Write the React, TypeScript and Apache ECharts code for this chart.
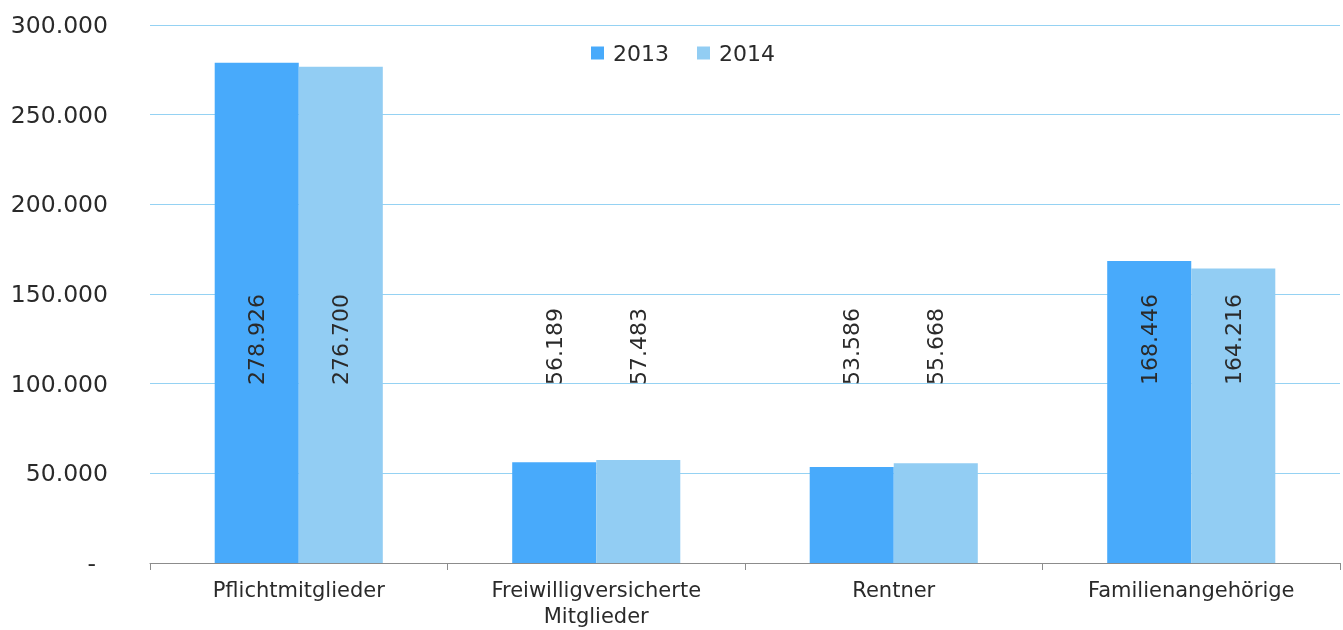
import React, { useEffect, useRef } from "react";
import * as echarts from "echarts";

const categories = ["Pflichtmitglieder", "Freiwilligversicherte Mitglieder", "Rentner", "Familienangehörige"];
const values2013 = [278926, 56189, 53586, 168446];
const values2014 = [276700, 57483, 55668, 164216];
const seriesNames = ["2013", "2014"];

const fmt = (v: number) => {
  if (v === 0) return "-";
  return String(Math.round(v)).replace(/\B(?=(\d{3})+(?!\d))/g, ".");
};

export default function App() {
  const ref = useRef<HTMLDivElement>(null);
  useEffect(() => {
    if (!ref.current) return;
    const chart = echarts.init(ref.current, null, { renderer: "svg" });
    const font = "'DejaVu Sans', Verdana, sans-serif";
    const txt = "#2a2a2a";
    const mkLabel = () => ({
      show: true,
      position: "insideBottom" as const,
      distance: 178,
      rotate: 90,
      align: "left" as const,
      verticalAlign: "middle" as const,
      color: txt,
      fontSize: 22,
      fontFamily: font,
      formatter: (p: any) => fmt(p.value),
    });
    chart.setOption({
      animation: false,
      textStyle: { fontFamily: font },
      legend: {
        data: seriesNames,
        top: 37,
        left: 586,
        itemWidth: 13,
        itemHeight: 13,
        itemGap: 28,
        icon: "rect",
        textStyle: { fontSize: 22, color: txt, fontFamily: font, padding: [0, 0, 0, 4] },
      },
      grid: { left: 150, right: 3, top: 25, bottom: 67 },
      xAxis: {
        type: "category",
        data: categories,
        axisLine: { lineStyle: { color: "#8c8c8c" } },
        axisTick: { show: true, length: 7, lineStyle: { color: "#8c8c8c" } },
        axisLabel: {
          fontSize: 21,
          color: txt,
          margin: 14,
          lineHeight: 26,
          fontFamily: font,
          formatter: (v: string) => v.replace(" ", "\n"),
        },
      },
      yAxis: {
        type: "value",
        min: 0,
        max: 300000,
        interval: 50000,
        axisLine: { show: false },
        axisTick: { show: false },
        splitLine: { lineStyle: { color: "#95d2f3", width: 1 } },
        axisLabel: {
          fontSize: 23.5,
          color: txt,
          margin: 42,
          fontFamily: font,
          formatter: (v: number) => (v === 0 ? "{z|-}" : fmt(v)),
          rich: { z: { fontSize: 23.5, color: txt, fontFamily: font, padding: [0, 12, 0, 0] } },
        },
      },
      series: [
        {
          name: seriesNames[0],
          type: "bar",
          data: values2013,
          barGap: "0%",
          barCategoryGap: "43.5%",
          itemStyle: { color: "#48aafb" },
          label: mkLabel(),
        },
        {
          name: seriesNames[1],
          type: "bar",
          data: values2014,
          barGap: "0%",
          barCategoryGap: "43.5%",
          itemStyle: { color: "#92cdf3" },
          label: mkLabel(),
        },
      ],
    });
    return () => chart.dispose();
  }, []);
  return <div ref={ref} style={{ position: "fixed", left: 0, top: 0, width: 1343, height: 630 }} />;
}
